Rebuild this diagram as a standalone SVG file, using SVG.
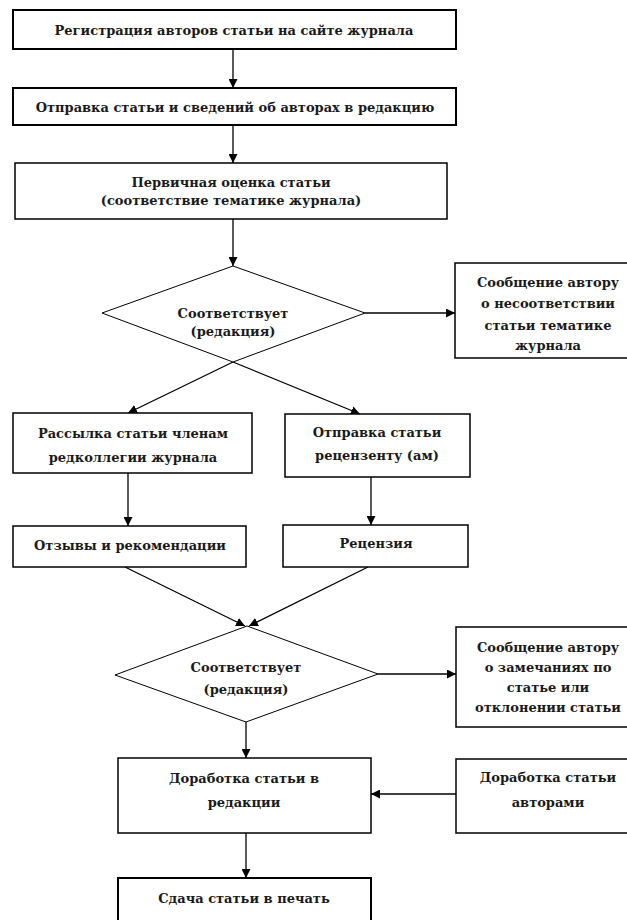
<svg xmlns="http://www.w3.org/2000/svg" width="627" height="920" viewBox="0 0 627 920">
<style>
.box{fill:#fff;stroke:#000;stroke-width:1.5}
.thick{stroke-width:2}
.dia{fill:#fff;stroke:#000;stroke-width:1}
.t{font-family:"DejaVu Serif","Liberation Serif",serif;font-weight:bold;font-size:13px;fill:#1a1a1a;text-anchor:middle}
.c{fill:none;stroke:#000;stroke-width:1.3;marker-end:url(#ah)}
</style>
<defs>
<marker id="ah" markerUnits="userSpaceOnUse" markerWidth="9" markerHeight="9" refX="9" refY="4.5" orient="auto">
<path d="M0,0 L9,4.5 L0,9 z" fill="#000"/>
</marker>
</defs>
<rect width="627" height="920" fill="#fff"/>
<g id="connectors">
<line class="c" x1="233" y1="49" x2="233" y2="88"/>
<line class="c" x1="233" y1="125" x2="233" y2="163"/>
<line class="c" x1="233" y1="219" x2="233" y2="266"/>
<line class="c" x1="365" y1="313" x2="455" y2="313"/>
<line class="c" x1="233" y1="362" x2="128" y2="413"/>
<line class="c" x1="233" y1="362" x2="360" y2="414"/>
<line class="c" x1="128" y1="473" x2="128" y2="526"/>
<line class="c" x1="371" y1="477" x2="371" y2="525"/>
<line class="c" x1="125" y1="567" x2="245" y2="626"/>
<line class="c" x1="368" y1="567" x2="249" y2="626"/>
<line class="c" x1="378" y1="674" x2="456" y2="674"/>
<line class="c" x1="246" y1="722" x2="246" y2="758"/>
<line class="c" x1="456" y1="794" x2="371" y2="794"/>
<line class="c" x1="246" y1="833" x2="246" y2="878"/>
</g>
<g id="n1"><rect class="box thick" x="13" y="10" width="443" height="39"/><text class="t" x="234" y="35">Регистрация авторов статьи на сайте журнала</text></g>
<g id="n2"><rect class="box thick" x="13" y="88" width="443" height="37"/><text class="t" x="235" y="112">Отправка статьи и сведений об авторах в редакцию</text></g>
<g id="n3"><rect class="box" x="15" y="163" width="432" height="56"/><text class="t" x="231" y="187">Первичная оценка статьи</text><text class="t" x="231" y="205">(соответствие тематике журнала)</text></g>
<g id="d1"><polygon class="dia" points="233,266 365,313 233,362 102,313"/><text class="t" x="233" y="318">Соответствует</text><text class="t" x="233" y="336">(редакция)</text></g>
<g id="r1"><rect class="box" x="455" y="263" width="190" height="95"/><text class="t" x="548" y="287">Сообщение автору</text><text class="t" x="548" y="308">о несоответствии</text><text class="t" x="548" y="330">статьи тематике</text><text class="t" x="548" y="350">журнала</text></g>
<g id="n4"><rect class="box" x="13" y="413" width="239" height="60"/><text class="t" x="133" y="438">Рассылка статьи членам</text><text class="t" x="133" y="462">редколлегии журнала</text></g>
<g id="n5"><rect class="box" x="285" y="414" width="185" height="63"/><text class="t" x="377" y="437">Отправка статьи</text><text class="t" x="377" y="460">рецензенту (ам)</text></g>
<g id="n6"><rect class="box" x="13" y="526" width="233" height="41"/><text class="t" x="130" y="550">Отзывы и рекомендации</text></g>
<g id="n7"><rect class="box" x="283" y="525" width="185" height="42"/><text class="t" x="376" y="548">Рецензия</text></g>
<g id="d2"><polygon class="dia" points="247,626 378,674 246,722 115,675"/><text class="t" x="246" y="672">Соответствует</text><text class="t" x="246" y="694">(редакция)</text></g>
<g id="r2"><rect class="box" x="456" y="627" width="190" height="100"/><text class="t" x="548" y="652">Сообщение автору</text><text class="t" x="548" y="672">о замечаниях по</text><text class="t" x="548" y="692">статье или</text><text class="t" x="548" y="712">отклонении статьи</text></g>
<g id="n8"><rect class="box" x="118" y="758" width="253" height="75"/><text class="t" x="244" y="783">Доработка статьи в</text><text class="t" x="244" y="807">редакции</text></g>
<g id="r3"><rect class="box" x="456" y="759" width="190" height="74"/><text class="t" x="548" y="782">Доработка статьи</text><text class="t" x="548" y="807">авторами</text></g>
<g id="n9"><rect class="box thick" x="118" y="878" width="253" height="50"/><text class="t" x="244" y="903">Сдача статьи в печать</text></g>
</svg>
